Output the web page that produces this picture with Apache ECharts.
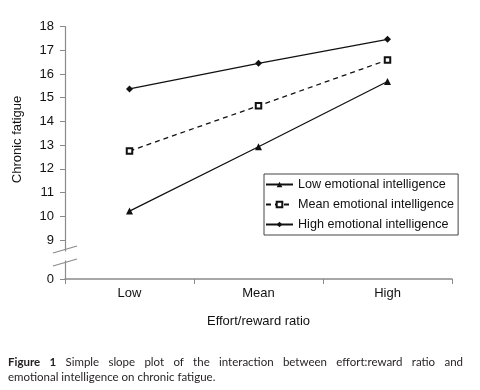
<!DOCTYPE html>
<html><head><meta charset="utf-8">
<script src="https://cdn.jsdelivr.net/npm/echarts@6/dist/echarts.min.js"></script>
<style>html,body{margin:0;padding:0;background:#fff}#c{width:480px;height:390px}</style>
</head><body><div id="c"></div>
<script>
const categories = ['Low', 'Mean', 'High'];
const seriesNames = ['Low emotional intelligence', 'Mean emotional intelligence', 'High emotional intelligence'];
const lowEI = [10.22, 12.93, 15.68];
const meanEI = [12.75, 14.66, 16.59];
const highEI = [15.37, 16.45, 17.46];
const yTicks = [9, 10, 11, 12, 13, 14, 15, 16, 17, 18];
const zeroPos = 7.356;          // axis value where the "0" tick sits after the break
const yTitle = 'Chronic fatigue';
const xTitle = 'Effort/reward ratio';
const captionLine1 = ['Figure', '1', 'Simple', 'slope', 'plot', 'of', 'the', 'interaction', 'between', 'effort:reward', 'ratio', 'and'];
const captionLine2 = 'emotional intelligence on chronic fatigue.';

const FONT = '"Liberation Sans", Arial, sans-serif';
const FS = 13;
const AX = '#8a8a8a';
const chart = echarts.init(document.getElementById('c'), null, {renderer: 'canvas'});

const option = {
  animation: false,
  backgroundColor: '#fff',
  textStyle: {fontFamily: FONT},
  grid: {left: 65, right: 28, top: 26.5, bottom: 111},
  legend: {
    orient: 'vertical', left: 264, top: 174,
    itemWidth: 27, itemHeight: 7, itemGap: 7,
    padding: [4, 4, 4, 1],
    borderColor: '#444', borderWidth: 1,
    textStyle: {fontFamily: FONT, fontSize: 12.6, color: '#111'},
    itemStyle: {borderWidth: 0.8},
    data: seriesNames
  },
  xAxis: {
    type: 'category', data: categories, boundaryGap: true,
    name: xTitle, nameLocation: 'middle', nameGap: 36,
    nameTextStyle: {fontFamily: FONT, fontSize: FS, color: '#111'},
    axisLine: {lineStyle: {color: AX, width: 1.5}},
    axisTick: {show: true, length: 5, lineStyle: {color: AX}},
    axisLabel: {fontFamily: FONT, fontSize: FS, color: '#111', margin: 8}
  },
  yAxis: {
    type: 'value', min: zeroPos, max: 18,
    splitLine: {show: false},
    axisLine: {show: true, lineStyle: {color: AX, width: 1.2}},
    axisTick: {show: true, length: 5, lineStyle: {color: AX}, customValues: [zeroPos].concat(yTicks)},
    axisLabel: {fontFamily: FONT, fontSize: FS, color: '#111', margin: 11,
      customValues: [zeroPos].concat(yTicks),
      formatter: v => (v < 8.5 ? '0' : String(Math.round(v)))}
  },
  series: [
    {name: seriesNames[0], type: 'line', data: lowEI, symbol: 'triangle', symbolSize: 7,
      lineStyle: {color: '#111', width: 1.3}, itemStyle: {color: '#111'}},
    {name: seriesNames[1], type: 'line', data: meanEI, symbol: 'emptyRect', symbolSize: 5.5,
      lineStyle: {color: '#111', width: 1.3, type: [5, 4]}, itemStyle: {color: '#111', borderColor: '#333', borderWidth: 0.7}},
    {name: seriesNames[2], type: 'line', data: highEI, symbol: 'diamond', symbolSize: 7,
      lineStyle: {color: '#111', width: 1.3}, itemStyle: {color: '#111'}}
  ]
};
chart.setOption(option);

// Decorations: axis break marks, titles, caption
const axX = chart.convertToPixel({xAxisIndex: 0}, 0) - (chart.convertToPixel({xAxisIndex: 0}, 1) - chart.convertToPixel({xAxisIndex: 0}, 0)) / 2;
const b1 = chart.convertToPixel({yAxisIndex: 0}, 8.6);
const b2 = chart.convertToPixel({yAxisIndex: 0}, 8.05);
const gfx = [
  {type: 'rect', shape: {x: axX - 3, y: b1 + 2, width: 6, height: b2 - b1 - 4}, style: {fill: '#fff'}, z: 100},
  {type: 'line', shape: {x1: axX - 12, y1: b1 + 3.5, x2: axX + 12, y2: b1 - 3.5}, style: {stroke: AX, lineWidth: 1.2}, z: 101},
  {type: 'line', shape: {x1: axX - 12, y1: b2 + 3.5, x2: axX + 12, y2: b2 - 3.5}, style: {stroke: AX, lineWidth: 1.2}, z: 101},
  {type: 'text', x: 17, y: 139.5, rotation: Math.PI / 2,
    style: {text: yTitle, font: FS + 'px ' + FONT, fill: '#111', align: 'center', verticalAlign: 'middle'}}
];
// caption, first line justified between x=8 and x=463
const cv = document.createElement('canvas').getContext('2d');
const capFont = '11.5px Lato, "Open Sans", sans-serif';
const capBold = 'bold 11.5px Lato, "Open Sans", sans-serif';
const fonts = captionLine1.map((w, i) => (i < 2 ? capBold : capFont));
const widths = captionLine1.map((w, i) => { cv.font = fonts[i]; return cv.measureText(w).width; });
const total = widths.reduce((a, b) => a + b, 0);
const gap = (463 - 8 - total) / (captionLine1.length - 1);
let cx = 8;
captionLine1.forEach((w, i) => {
  gfx.push({type: 'text', x: cx, y: 362, style: {text: w, font: fonts[i], fill: '#231f20', align: 'left', verticalAlign: 'middle'}});
  cx += widths[i] + gap;
});
gfx.push({type: 'text', x: 8, y: 377, style: {text: captionLine2, font: capFont, fill: '#231f20', align: 'left', verticalAlign: 'middle'}});
chart.setOption({graphic: gfx});
</script>
</body></html>
